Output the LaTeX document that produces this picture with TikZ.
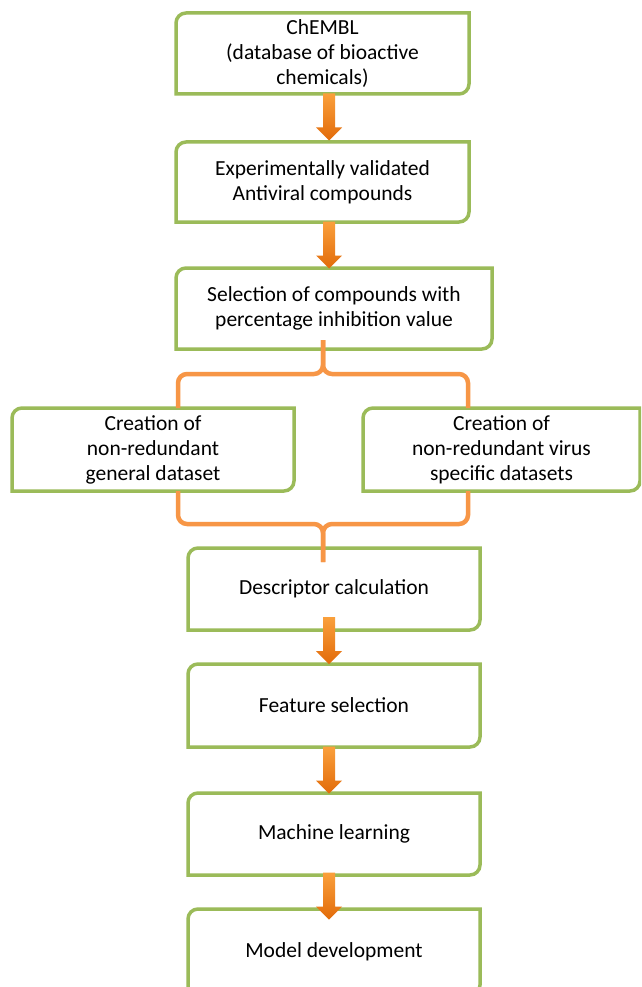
\documentclass[tikz,border=0pt]{standalone}
\usepackage{fontspec}
\setmainfont{Carlito}
\usetikzlibrary{calc}
\definecolor{boxgreen}{RGB}{155,187,89}
\definecolor{braceorange}{RGB}{247,150,70}
\definecolor{arrowtop}{RGB}{250,160,60}
\definecolor{arrowbot}{RGB}{226,107,10}
\newcommand{\diagbox}[1]{\draw[boxline] (#1.south west) -- ([yshift=-10pt]#1.north west)
	arc (180:90:10pt) -- (#1.north east) -- ([yshift=10pt]#1.south east)
	arc (0:-90:10pt) -- cycle}
\newcommand{\flow}[3]{\coordinate (m) at ($(#1.south)!0.5!(#2.north)$);
	\coordinate (c) at ([yshift=#3]m -| axis);
	\shade[flowarrow,shift={(c)}] (-6,23.5) -- (6,23.5) -- (6,-10.5) -- (13,-10.5)
		-- (0,-23.5) -- (-13,-10.5) -- (-6,-10.5) -- cycle}

\begin{document}
\begin{tikzpicture}[x=1pt,y=1pt,
	step box/.style={inner sep=0pt,outer sep=0pt,align=center,
		font=\fontsize{21.5}{25}\selectfont},
	boxline/.style={draw=boxgreen,line width=3.5pt,fill=white},
	brace/.style={draw=braceorange,line width=4.5pt,rounded corners=9pt},
	flowarrow/.style={top color=arrowtop,bottom color=arrowbot}]
	\useasboundingbox (0,0) rectangle (641,-987);
	\fill[white] (0,0) rectangle (641,-987);
	\clip (0,0) rectangle (641,-987);
	\coordinate (axis) at (329,0);
	% boxes
	\node[step box,minimum width=293pt,minimum height=81pt] (chembl) at (322.5,-53.5) {};
	\node[step box,minimum width=293pt,minimum height=80pt] (valid) at (322.5,-182) {};
	\node[step box,minimum width=316pt,minimum height=81pt] (select) at (334,-308.5) {};
	\node[step box,minimum width=282pt,minimum height=83pt] (general) at (153,-449.5) {};
	\node[step box,minimum width=277pt,minimum height=83pt] (virus) at (501.5,-449.5) {};
	\node[step box,minimum width=292pt,minimum height=82pt] (desc) at (334,-589) {};
	\node[step box,minimum width=292pt,minimum height=83pt] (feat) at (334,-705.5) {};
	\node[step box,minimum width=292pt,minimum height=82pt] (mach) at (334,-834) {};
	\node[step box,minimum width=292pt,minimum height=86pt] (model) at (334,-952) {};
	\diagbox{chembl};
	\diagbox{valid};
	\diagbox{select};
	\diagbox{general};
	\diagbox{virus};
	\diagbox{desc};
	\diagbox{feat};
	\diagbox{mach};
	\diagbox{model};
	\node[step box] at (chembl) {ChEMBL\\(database of bioactive\\chemicals)};
	\node[step box] at (valid) {Experimentally validated\\Antiviral compounds};
	\node[step box] at (select) {Selection of compounds with\\percentage inhibition value};
	\node[step box] at (general) {Creation of\\non-redundant\\general dataset};
	\node[step box] at (virus) {Creation of\\non-redundant virus\\specific datasets};
	\node[step box] at (desc) {Descriptor calculation};
	\node[step box] at (feat) {Feature selection};
	\node[step box] at (mach) {Machine learning};
	\node[step box] at (model) {Model development};
	% split and merge
	\coordinate (selB) at (323,-340);
	\coordinate (genT) at (178,-408);
	\coordinate (virT) at (468,-408);
	\coordinate (genB) at (178,-491);
	\coordinate (virB) at (468,-491);
	\coordinate (descT) at (323,-562);
	\draw[brace] (genT) |- (323,-374) -- (selB);
	\draw[brace] (virT) |- (323,-374) -- (selB);
	\draw[brace] (genB) |- (323,-524) -- (descT);
	\draw[brace] (virB) |- (323,-524) -- (descT);
	% arrows
	\flow{chembl}{valid}{1pt};
	\flow{valid}{select}{0pt};
	\flow{desc}{feat}{6.5pt};
	\flow{feat}{mach}{0pt};
	\flow{mach}{model}{-4pt};
\end{tikzpicture}
\end{document}
